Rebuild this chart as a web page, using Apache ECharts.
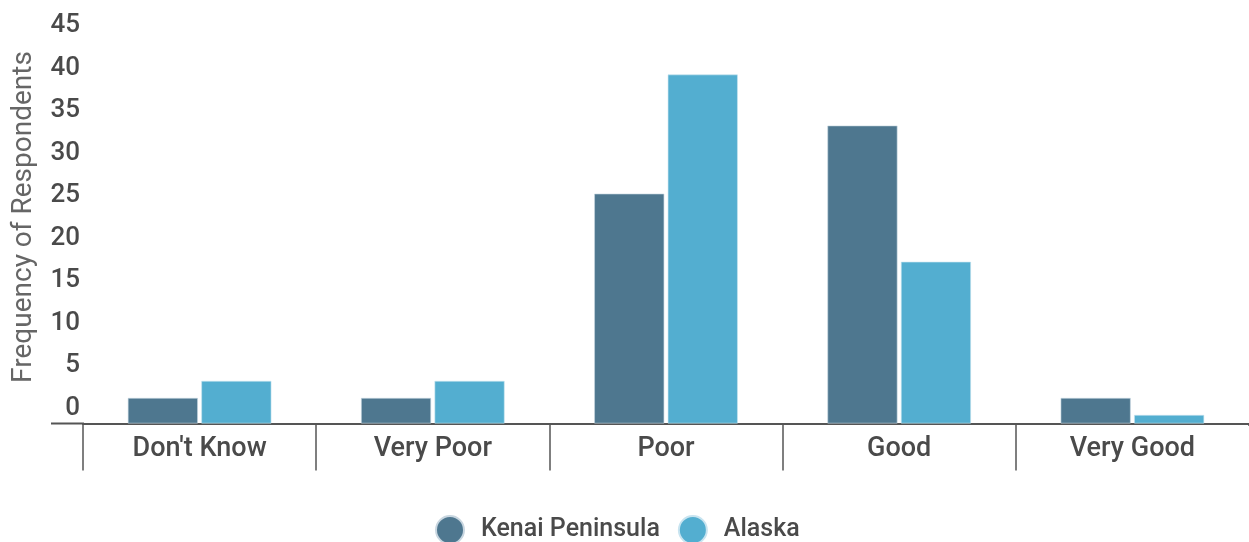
<!DOCTYPE html>
<html>
<head>
<meta charset="utf-8">
<script src="https://cdn.jsdelivr.net/npm/echarts@6/dist/echarts.min.js"></script>
<style>
html,body{margin:0;padding:0;background:#fff;}
#chart{width:1249px;height:542px;}
</style>
</head>
<body>
<div id="chart"></div>
<script>
const categories = ["Don't Know", "Very Poor", "Poor", "Good", "Very Good"];
const kenaiValues = [3, 3, 27, 35, 3];
const alaskaValues = [5, 5, 41, 19, 1];
const seriesNames = ["Kenai Peninsula", "Alaska"];
const yTicks = { min: 0, max: 45, interval: 5 };
const yAxisTitle = "Frequency of Respondents";

const chart = echarts.init(document.getElementById('chart'), null, { renderer: 'canvas' });
const font = 'Roboto';
chart.setOption({
  animation: false,
  textStyle: { fontFamily: font },
  grid: { left: 83, width: 1168, top: 40.5, bottom: 118.5, containLabel: false },
  legend: {
    data: seriesNames,
    top: 510,
    left: 430,
    icon: 'circle',
    itemWidth: 28,
    itemHeight: 28,
    itemGap: 18,
    textStyle: { fontFamily: font, fontSize: 25, fontWeight: 500, color: '#4a4a4a', padding: [0, 0, 0, 12] }
  },
  xAxis: {
    type: 'category',
    data: categories,
    axisLine: { show: true, lineStyle: { color: '#555', width: 2 } },
    axisTick: { show: true, interval: 0, length: 47, lineStyle: { color: '#555', width: 1.5 } },
    axisLabel: { interval: 0, margin: 12, fontFamily: font, fontSize: 27, fontWeight: 500, color: '#4a4a4a' },
    splitLine: { show: false }
  },
  yAxis: {
    type: 'value',
    min: yTicks.min,
    max: yTicks.max,
    interval: yTicks.interval,
    name: yAxisTitle,
    nameLocation: 'middle',
    nameGap: 45,
    nameTextStyle: { fontFamily: font, fontSize: 28, color: '#666', padding: [0, 0, 0, 30] },
    axisLine: { show: false },
    axisTick: { show: false },
    splitLine: { show: false },
    axisLabel: { margin: 3, fontFamily: font, fontSize: 26, fontWeight: 500, color: '#4a4a4a', verticalAlign: 'bottom', padding: [0, 0, 2, 0] }
  },
  graphic: [
    {
      type: 'line',
      shape: { x1: 51, y1: 423.5, x2: 84, y2: 423.5 },
      style: { stroke: '#555', lineWidth: 2 },
      z: 10
    },
    {
      type: 'rect',
      shape: { x: 1240, y: 426, width: 12, height: 60 },
      style: { fill: '#fff' },
      z: 10
    }
  ],
  series: [
    {
      name: seriesNames[0],
      type: 'bar',
      data: kenaiValues,
      barWidth: 70,
      barGap: '5%',
      itemStyle: { color: '#4e778f', borderColor: '#c8d6e0', borderWidth: 0.6 }
    },
    {
      name: seriesNames[1],
      type: 'bar',
      data: alaskaValues,
      barWidth: 70,
      barGap: '5%',
      itemStyle: { color: '#53aed0', borderColor: '#c8e4f0', borderWidth: 0.6 }
    }
  ]
});
</script>
</body>
</html>
